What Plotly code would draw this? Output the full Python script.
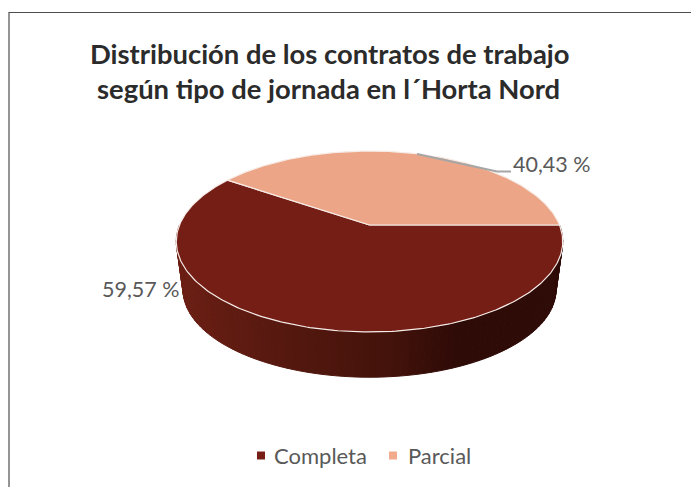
import numpy as np
import plotly.graph_objects as go

# ---- data ----
categories = ["Completa", "Parcial"]
values = [59.57, 40.43]
value_labels = ["59,57 %", "40,43 %"]
title_lines = ["Distribución de los contratos de trabajo", "según tipo de jornada en l´Horta Nord"]

# ---- styles ----
slice_colors = ["#751e16", "#eca687"]
legend_colors = ["#771f17", "#f2a98c"]
text_color = "#595959"
FONT = "Lato"
W, H = 691, 487

# perspective disc projection (pixel-space axes)
CX, CY, RX, RY, K = 369.5, 225.0, 190.0, 87.5, 0.182
DEPTH_SCALE, CY_LOW = 0.965, 274.0


def project(angle, scale=1.0, cy=CY):
    c, s = np.cos(angle), np.sin(angle)
    w = 1 + K * s
    return CX + scale * RX * c / w, cy - scale * RY * s / w


fig = go.Figure()

# side wall, shaded front half
stop_x = [177, 290, 390, 460, 563]
stop_rgb = np.array([[108, 31, 20], [84, 24, 15], [68, 19, 11], [47, 11, 7], [46, 12, 8]])
edges = np.radians(np.linspace(180, 360, 91))
for a0, a1 in zip(edges[:-1], edges[1:]):
    x0, y0 = project(a0)
    x1, y1 = project(a1)
    x2, y2 = project(a1, DEPTH_SCALE, CY_LOW)
    x3, y3 = project(a0, DEPTH_SCALE, CY_LOW)
    xm = (x0 + x1) / 2
    rgb = [int(np.interp(xm, stop_x, stop_rgb[:, i])) for i in range(3)]
    col = f"rgb({rgb[0]},{rgb[1]},{rgb[2]})"
    fig.add_trace(go.Scatter(x=[x0, x1, x2, x3, x0], y=[y0, y1, y2, y3, y0], mode="lines",
                             fill="toself", fillcolor=col, line=dict(color=col, width=1),
                             hoverinfo="skip", showlegend=False))

# top face: slices run clockwise from due east
start = 0.0
total = sum(values)
for name, val, col in zip(categories, values, slice_colors):
    sweep = 2 * np.pi * val / total
    ang = -np.linspace(start, start + sweep, 240)
    xs, ys = project(ang)
    fig.add_trace(go.Scatter(x=np.r_[CX, xs, CX], y=np.r_[CY, ys, CY], mode="lines", fill="toself",
                             fillcolor=col, line=dict(color="#f6ece8", width=1.2),
                             name=name, hoverinfo="name", showlegend=False))
    start += sweep

# legend
for name, col, mx in zip(categories, legend_colors, [261, 393]):
    fig.add_trace(go.Scatter(x=[mx], y=[455.5], mode="markers", name=name,
                             marker=dict(symbol="square", size=8, color=col), showlegend=False,
                             hoverinfo="skip"))

shapes = [
    dict(type="line", x0=9, y0=12.5, x1=691, y1=12.5, line=dict(color="#4d4d4d", width=1.2)),
    dict(type="line", x0=9, y0=12, x1=9, y1=487, line=dict(color="#4d4d4d", width=1.2)),
    dict(type="path", path="M 417 154 L 497 171.5 L 511 171.5", line=dict(color="#a6a6a6", width=2)),
]
annotations = [
    dict(x=330, y=53, text=f"<b>{title_lines[0]}</b>", font=dict(family=FONT, size=27.4, color="#2b2b2b")),
    dict(x=328, y=88, text=f"<b>{title_lines[1]}</b>", font=dict(family=FONT, size=27.4, color="#2b2b2b")),
    dict(x=140.5, y=288.5, text=value_labels[0], font=dict(family=FONT, size=21.5, color=text_color)),
    dict(x=552, y=163.5, text=value_labels[1], font=dict(family=FONT, size=21.5, color=text_color)),
    dict(x=320, y=455, text=categories[0], font=dict(family=FONT, size=22, color=text_color)),
    dict(x=439.5, y=455, text=categories[1], font=dict(family=FONT, size=22, color=text_color)),
]
for a in annotations:
    a.update(xref="x", yref="y", showarrow=False, xanchor="center", yanchor="middle")

fig.update_layout(
    width=W, height=H, margin=dict(l=0, r=0, t=0, b=0), autosize=False,
    paper_bgcolor="white", plot_bgcolor="white", showlegend=False,
    xaxis=dict(range=[0, W], visible=False, fixedrange=True),
    yaxis=dict(range=[H, 0], visible=False, fixedrange=True),
    shapes=shapes, annotations=annotations,
)
fig.write_html("out.html", config={"displayModeBar": False},
               post_script="document.body.style.margin='0';document.body.style.overflow='hidden';")
